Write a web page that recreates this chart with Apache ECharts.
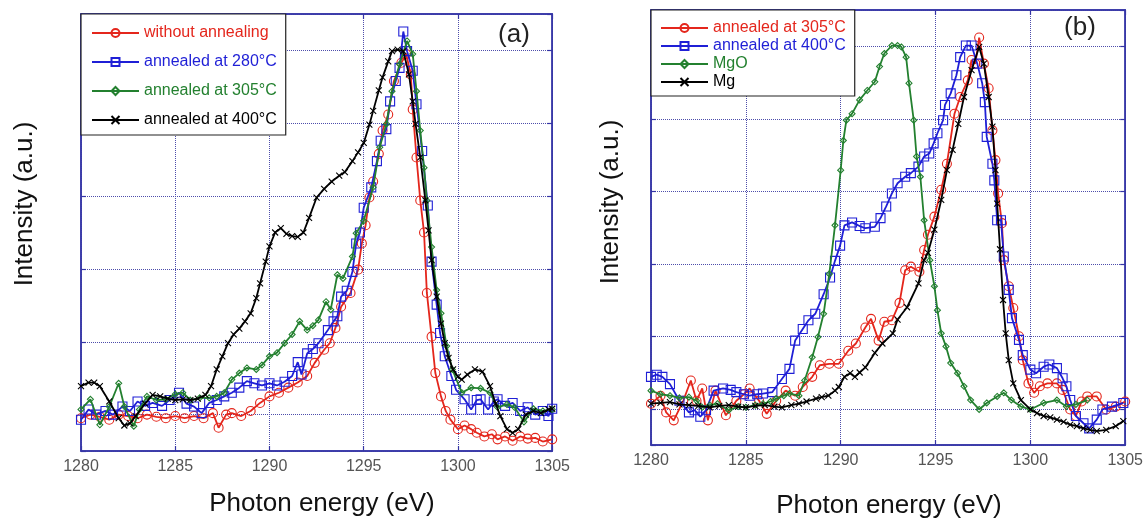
<!DOCTYPE html>
<html><head><meta charset="utf-8">
<script src="https://cdn.jsdelivr.net/npm/echarts@6/dist/echarts.min.js"></script>
<style>
html,body{margin:0;padding:0;background:#fff;}
#wrap{position:relative;width:1146px;height:519px;}
#ca{position:absolute;left:0;top:0;width:573px;height:519px;}
#cb{position:absolute;left:573px;top:0;width:573px;height:519px;}
</style>
</head><body><div id="wrap"><div id="ca"></div><div id="cb"></div></div>
<script>
// ---------- axis settings ----------
const energyMin = 1280, energyMax = 1305, energyStep = 5;
const intensityMin = -0.5, intensityMax = 5.5;

// ---------- panel (a) ----------
const namesA = ['without annealing', 'annealed at 280°C', 'annealed at 305°C', 'annealed at 400°C'];
const aNoAnneal = [[1280,-0.05],[1280.5,0],[1281,-0.03],[1281.5,-0.07],[1282,0],[1282.5,-0.02],[1283,-0.05],[1283.5,0],[1284,-0.03],[1284.5,-0.05],[1285,-0.02],[1285.5,-0.05],[1286,-0.02],[1286.5,-0.05],[1287,0.02],[1287.3,-0.18],[1287.7,0],[1288,0.02],[1288.5,-0.02],[1289,0.05],[1289.5,0.16],[1290,0.25],[1290.5,0.3],[1291,0.37],[1291.5,0.44],[1292,0.53],[1292.4,0.71],[1292.9,0.89],[1293.2,0.98],[1293.5,1.19],[1293.8,1.48],[1294.3,1.67],[1294.7,1.99],[1294.9,2.35],[1295.1,2.6],[1295.3,2.98],[1295.5,3.2],[1295.8,3.58],[1296,3.9],[1296.3,4.12],[1296.6,4.58],[1297,4.83],[1297.25,4.95],[1297.5,4.67],[1297.6,4.19],[1297.8,3.53],[1298,2.94],[1298.2,2.5],[1298.35,1.67],[1298.6,1.07],[1298.8,0.57],[1299.1,0.25],[1299.35,0.05],[1299.6,-0.07],[1300,-0.2],[1300.35,-0.15],[1300.7,-0.2],[1301,-0.25],[1301.4,-0.3],[1301.8,-0.27],[1302.1,-0.34],[1302.5,-0.3],[1302.9,-0.36],[1303.3,-0.3],[1303.7,-0.33],[1304.1,-0.32],[1304.5,-0.37],[1305,-0.34]];
const a280 = [[1280,-0.07],[1280.4,0.07],[1280.8,0],[1281.3,0.05],[1281.7,0],[1282.2,0.11],[1282.6,0.05],[1283,0.18],[1283.4,0.12],[1283.8,0.16],[1284.3,0.12],[1284.7,0.2],[1285.2,0.3],[1285.6,0.15],[1286,0.11],[1286.4,0.02],[1286.8,0.16],[1287.2,0.2],[1287.6,0.25],[1288,0.3],[1288.4,0.37],[1288.8,0.46],[1289.2,0.43],[1289.6,0.4],[1290,0.43],[1290.4,0.4],[1290.8,0.45],[1291.2,0.53],[1291.5,0.72],[1291.7,0.55],[1292,0.84],[1292.3,0.9],[1292.6,0.98],[1293.1,1.16],[1293.4,1.28],[1293.6,1.35],[1293.8,1.62],[1294.1,1.7],[1294.4,1.96],[1294.6,2.35],[1294.8,2.5],[1295,2.84],[1295.4,3.12],[1295.7,3.48],[1295.9,3.76],[1296.2,3.92],[1296.4,4.3],[1296.7,4.58],[1296.9,4.76],[1297.1,5.26],[1297.3,4.99],[1297.6,4.72],[1297.8,4.26],[1298.1,3.62],[1298.4,2.87],[1298.6,2.1],[1298.87,1.51],[1299.05,1.12],[1299.3,0.8],[1299.65,0.53],[1299.9,0.34],[1300.35,0.21],[1300.7,0.07],[1301,0.2],[1301.2,0.21],[1301.6,0.07],[1301.9,0.18],[1302.1,0.21],[1302.5,0.12],[1302.9,0.16],[1303.3,0.05],[1303.7,0.1],[1304.1,0],[1304.5,0.05],[1304.8,-0.02],[1305,0.08]];
const a305 = [[1280,0.07],[1280.5,0.21],[1281,-0.14],[1281.5,0.11],[1282,0.43],[1282.3,0.11],[1282.8,-0.16],[1283.1,0.07],[1283.5,0.25],[1284,0.2],[1284.5,0.21],[1285,0.28],[1285.4,0.3],[1285.8,0.2],[1286.3,0.23],[1286.8,0.23],[1287.2,0.25],[1287.6,0.3],[1288,0.48],[1288.4,0.57],[1288.8,0.64],[1289.3,0.62],[1289.6,0.68],[1290,0.8],[1290.4,0.85],[1290.8,0.98],[1291.2,1.1],[1291.6,1.28],[1292,1.16],[1292.3,1.22],[1292.6,1.3],[1293,1.55],[1293.25,1.44],[1293.6,1.92],[1293.9,1.87],[1294.4,2.17],[1294.6,2.49],[1295,2.66],[1295.5,3.12],[1295.85,3.67],[1296.2,3.99],[1296.5,4.44],[1296.9,4.81],[1297.3,5.13],[1297.6,4.95],[1297.8,4.44],[1298,3.9],[1298.2,3.39],[1298.35,2.94],[1298.6,2.3],[1298.87,1.71],[1299.1,1.39],[1299.4,0.94],[1299.7,0.62],[1300.2,0.3],[1300.7,0.37],[1301.2,0.36],[1301.7,0.3],[1302.1,0.1],[1302.6,0.14],[1303,0.1],[1303.5,-0.1],[1304,0.08],[1304.5,0.05],[1305,0.07]];
const a400 = [[1280,0.39],[1280.4,0.44],[1280.7,0.44],[1281,0.39],[1281.5,0.18],[1282,-0.05],[1282.3,-0.15],[1282.6,-0.12],[1282.9,-0.02],[1283.4,0.15],[1283.8,0.27],[1284.2,0.25],[1284.6,0.22],[1285,0.2],[1285.4,0.21],[1285.8,0.2],[1286.2,0.22],[1286.6,0.27],[1286.9,0.39],[1287.2,0.62],[1287.5,0.8],[1287.8,0.98],[1288.1,1.1],[1288.4,1.18],[1288.7,1.28],[1289,1.39],[1289.3,1.6],[1289.5,1.8],[1289.8,2.1],[1290,2.31],[1290.3,2.5],[1290.6,2.56],[1290.9,2.48],[1291.2,2.45],[1291.5,2.44],[1291.8,2.5],[1292.1,2.7],[1292.5,2.98],[1292.9,3.1],[1293.3,3.2],[1293.7,3.28],[1294,3.33],[1294.4,3.48],[1294.7,3.6],[1295,3.73],[1295.3,3.98],[1295.5,4.17],[1295.8,4.45],[1296,4.63],[1296.3,4.85],[1296.5,4.99],[1296.8,5.01],[1297.1,4.99],[1297.4,4.67],[1297.6,4.3],[1297.75,3.99],[1298,3.53],[1298.27,2.94],[1298.44,2.53],[1298.6,2.12],[1298.87,1.62],[1299.1,1.25],[1299.3,0.98],[1299.5,0.78],[1299.74,0.62],[1300,0.52],[1300.2,0.48],[1300.5,0.55],[1300.9,0.62],[1301.3,0.59],[1301.7,0.39],[1302,0.15],[1302.25,-0.02],[1302.6,-0.2],[1302.9,-0.25],[1303.2,-0.2],[1303.6,0],[1304,0.05],[1304.4,0.02],[1304.8,0.07],[1305,0.08]];

// ---------- panel (b) ----------
const namesB = ['annealed at 305°C', 'annealed at 400°C', 'MgO', 'Mg'];
const b305 = [[1280,0.07],[1280.5,0.18],[1280.8,-0.05],[1281.2,-0.16],[1281.7,0.11],[1282.1,0.39],[1282.4,0.11],[1282.7,0.28],[1283,-0.16],[1283.4,0.25],[1283.95,-0.09],[1284.5,0.11],[1284.9,0.2],[1285.2,0.28],[1285.7,0.11],[1286.1,-0.07],[1286.6,0.11],[1287.1,0.25],[1287.6,0.18],[1288,0.3],[1288.5,0.44],[1288.9,0.6],[1289.4,0.62],[1289.9,0.62],[1290.4,0.8],[1290.8,0.9],[1291.3,1.12],[1291.6,1.24],[1292,0.94],[1292.3,1.2],[1292.7,1.22],[1293.1,1.46],[1293.4,1.91],[1293.7,1.96],[1294.15,1.89],[1294.4,2.19],[1294.6,2.4],[1294.94,2.65],[1295.3,3.02],[1295.6,3.38],[1296,4.07],[1296.3,4.3],[1296.7,4.53],[1296.9,4.81],[1297.1,4.76],[1297.3,5.12],[1297.55,4.76],[1297.8,4.42],[1298,3.84],[1298.16,3.43],[1298.3,2.97],[1298.5,2.56],[1298.6,2.05],[1298.86,1.69],[1299.1,1.39],[1299.4,1],[1299.6,0.67],[1299.9,0.35],[1300.2,0.22],[1300.5,0.31],[1300.9,0.35],[1301.4,0.35],[1301.7,0.26],[1302.1,-0.01],[1302.4,-0.1],[1302.7,0.1],[1303,0.17],[1303.5,0.17],[1304,-0.01],[1304.5,0.03],[1305,0.1]];
const b400 = [[1280,0.44],[1280.3,0.47],[1280.6,0.44],[1281,0.34],[1281.5,0.11],[1282,-0.05],[1282.3,-0.02],[1282.6,-0.11],[1282.9,-0.02],[1283.3,0.25],[1283.8,0.28],[1284.2,0.26],[1284.5,0.23],[1284.9,0.2],[1285.2,0.18],[1285.6,0.2],[1285.9,0.21],[1286.4,0.23],[1286.9,0.41],[1287.3,0.55],[1287.6,0.94],[1288,1.1],[1288.3,1.22],[1288.66,1.31],[1289.1,1.58],[1289.44,1.81],[1289.7,2.04],[1289.97,2.25],[1290.2,2.53],[1290.6,2.57],[1291,2.52],[1291.3,2.49],[1291.8,2.51],[1292.1,2.63],[1292.4,2.79],[1292.7,2.97],[1293,3.11],[1293.4,3.2],[1293.7,3.25],[1294.1,3.34],[1294.4,3.48],[1294.67,3.52],[1294.9,3.66],[1295.1,3.8],[1295.4,3.98],[1295.5,4.19],[1295.8,4.35],[1296.1,4.6],[1296.3,4.85],[1296.6,5.01],[1296.9,5.01],[1297.2,4.76],[1297.46,4.49],[1297.6,4.23],[1297.7,3.75],[1298,3.38],[1298.1,3.15],[1298.25,2.6],[1298.45,2.6],[1298.6,2.1],[1298.86,1.64],[1299.03,1.25],[1299.4,0.95],[1299.6,0.74],[1300,0.54],[1300.3,0.49],[1300.7,0.58],[1301,0.61],[1301.4,0.56],[1301.7,0.42],[1301.9,0.31],[1302.1,0.12],[1302.4,-0.1],[1302.8,-0.2],[1303.1,-0.27],[1303.5,-0.15],[1303.8,-0.01],[1304.3,0.03],[1304.9,0.08]];
const bMgO = [[1280,0.25],[1280.5,0.2],[1281,0.18],[1281.5,0.15],[1282,0.16],[1282.4,0.11],[1282.7,0.02],[1283.1,0.05],[1283.5,0.07],[1284.1,-0.02],[1284.6,0.03],[1285,0.02],[1285.5,0.05],[1285.9,0.07],[1286.3,0.1],[1286.6,0.14],[1287,0.18],[1287.3,0.21],[1287.8,0.18],[1288.1,0.39],[1288.5,0.71],[1288.8,0.99],[1289.1,1.31],[1289.4,1.86],[1289.7,2.53],[1290,3.29],[1290.14,3.7],[1290.3,3.98],[1290.6,4.07],[1291,4.26],[1291.4,4.39],[1291.8,4.51],[1292.05,4.72],[1292.3,4.9],[1292.7,5.01],[1293,5.01],[1293.2,4.99],[1293.45,4.85],[1293.6,4.49],[1293.85,3.98],[1294,3.48],[1294.2,3.2],[1294.4,2.6],[1294.7,2.05],[1294.94,1.69],[1295.1,1.36],[1295.3,1.04],[1295.55,0.86],[1295.8,0.63],[1296.16,0.49],[1296.5,0.31],[1296.85,0.12],[1297.3,-0.01],[1297.7,0.08],[1298.25,0.17],[1298.6,0.22],[1299,0.12],[1299.5,0.03],[1300,-0.01],[1300.7,0.08],[1301.4,0.12],[1301.9,0.03],[1302.4,0.06],[1303,0.12]];
const bMg = [[1280,0.07],[1280.5,0.08],[1281,0.09],[1281.5,0.06],[1282,0.05],[1282.5,0.04],[1283.1,0.02],[1283.6,0.04],[1284.1,0.05],[1284.6,0.03],[1285,0.02],[1285.5,0.04],[1286,0.05],[1286.5,0.03],[1286.9,0.02],[1287.4,0.05],[1287.8,0.07],[1288.2,0.1],[1288.7,0.14],[1289,0.16],[1289.35,0.18],[1289.7,0.25],[1289.9,0.3],[1290.2,0.44],[1290.5,0.49],[1290.75,0.44],[1291,0.5],[1291.3,0.57],[1291.8,0.77],[1292.2,0.9],[1292.75,1.04],[1293,1.23],[1293.5,1.4],[1294.1,1.73],[1294.4,2.05],[1294.6,2.15],[1294.94,2.47],[1295.3,2.88],[1295.6,3.29],[1295.9,3.57],[1296.2,3.93],[1296.5,4.3],[1296.9,4.67],[1297.3,4.99],[1297.55,4.76],[1297.8,4.3],[1298,3.89],[1298.16,3.29],[1298.25,2.83],[1298.4,2.2],[1298.56,1.5],[1298.7,1.04],[1298.86,0.67],[1299.1,0.35],[1299.5,0.12],[1300,-0.01],[1300.35,-0.06],[1300.7,-0.1],[1301.05,-0.12],[1301.4,-0.15],[1301.75,-0.18],[1302.1,-0.22],[1302.45,-0.24],[1302.8,-0.27],[1303.15,-0.29],[1303.5,-0.31],[1304,-0.29],[1304.5,-0.24],[1304.9,-0.17]];

// ---------- styling ----------
const RED = '#e4261c', BLUE = '#1f1fd6', GREEN = '#23802f', BLACK = '#000000';
const FRAME = '#3535a6', GRIDC = '#4d4dab';
const FONT = 'Arial, "Liberation Sans", sans-serif';
const XMARK = 'path://M0,0L10,10M10,0L0,10';

function series(name, data, color, symbol, size, z) {
  return {
    name, type: 'line', data, symbol, symbolSize: size, showSymbol: true, showAllSymbol: true,
    z, animation: false, silent: true, xAxisIndex: 0, yAxisIndex: 0,
    lineStyle: { color, width: 1.8 },
    itemStyle: { color: 'rgba(255,255,255,0)', borderColor: color, borderWidth: 1.1 },
    emphasis: { disabled: true }
  };
}

function xAxisCfg(pos, labels) {
  return {
    type: 'value', position: pos, min: energyMin, max: energyMax, interval: energyStep,
    axisLine: { show: true, onZero: false, lineStyle: { color: FRAME, width: 1.5 } },
    axisTick: { show: true, inside: true, length: 5, lineStyle: { color: FRAME, width: 1.2 } },
    axisLabel: { show: labels, color: '#555', fontSize: 16, fontFamily: FONT, margin: 8,
                 showMaxLabel: true, showMinLabel: true, formatter: v => String(v) },
    splitLine: { show: labels, lineStyle: { color: GRIDC, type: 'dotted', width: 1 } }
  };
}
function yAxisCfg(pos, grid) {
  return {
    type: 'value', position: pos, min: intensityMin, max: intensityMax, splitNumber: 6,
    axisLine: { show: true, onZero: false, lineStyle: { color: FRAME, width: 1.5 } },
    axisTick: { show: true, inside: true, length: 5, lineStyle: { color: FRAME, width: 1.2 } },
    axisLabel: { show: false },
    splitLine: { show: grid, lineStyle: { color: GRIDC, type: 'dotted', width: 1 } }
  };
}

function panel(cfg) {
  return {
    animation: false,
    color: cfg.colors,
    grid: { left: cfg.left, top: cfg.top, width: cfg.width, height: cfg.height,
            show: true, borderColor: FRAME, borderWidth: 1.5, backgroundColor: 'transparent' },
    xAxis: [xAxisCfg('bottom', true), xAxisCfg('top', false)],
    yAxis: [yAxisCfg('left', true), yAxisCfg('right', false)],
    legend: {
      orient: 'vertical', left: cfg.legLeft, top: cfg.legTop,
      backgroundColor: '#fff', borderColor: '#222', borderWidth: 1.2,
      padding: cfg.legPad, itemGap: cfg.legGap, itemWidth: 47, itemHeight: 10,
      textStyle: { fontSize: 16, fontFamily: FONT, lineHeight: cfg.legLH },
      data: cfg.names.map((n, i) => ({ name: n, textStyle: { color: cfg.colors[i] } })),
      selectedMode: false
    },
    graphic: [
      { type: 'text', x: cfg.tagX, y: cfg.tagY, style: { text: cfg.tag, fontSize: 26, fontFamily: FONT, fill: '#222', textAlign: 'center', textVerticalAlign: 'middle' } },
      { type: 'text', x: cfg.yNameX, y: cfg.yNameY, rotation: Math.PI / 2, style: { text: 'Intensity (a.u.)', fontSize: 26, fontFamily: FONT, fill: '#111', textAlign: 'center', textVerticalAlign: 'middle' } },
      { type: 'text', x: cfg.xNameX, y: cfg.xNameY, style: { text: 'Photon energy (eV)', fontSize: 26, fontFamily: FONT, fill: '#111', textAlign: 'center', textVerticalAlign: 'middle' } }
    ],
    series: cfg.series
  };
}

const chartA = echarts.init(document.getElementById('ca'), null, { renderer: 'canvas' });
chartA.setOption(panel({
  left: 81, top: 14, width: 482, height: 437,
  colors: [RED, BLUE, GREEN, BLACK], names: namesA,
  legLeft: 81, legTop: 14, legPad: [10, 9, 6, 10], legGap: 11, legLH: 18,
  tag: '(a)', tagX: 514, tagY: 35,
  yNameX: 25, yNameY: 204, xNameX: 322, xNameY: 504,
  series: [
    series(namesA[0], aNoAnneal, RED, 'circle', 9, 3),
    series(namesA[1], a280, BLUE, 'rect', 9, 4),
    series(namesA[2], a305, GREEN, 'diamond', 6, 5),
    series(namesA[3], a400, BLACK, XMARK, 6, 6)
  ]
}));

const chartB = echarts.init(document.getElementById('cb'), null, { renderer: 'canvas' });
chartB.setOption(panel({
  left: 78, top: 10, width: 478, height: 435,
  colors: [RED, BLUE, GREEN, BLACK], names: namesB,
  legLeft: 78, legTop: 10, legPad: [10, 9, 6, 9], legGap: 2, legLH: 16,
  tag: '(b)', tagX: 507, tagY: 28,
  yNameX: 38, yNameY: 202, xNameX: 316, xNameY: 506,
  series: [
    series(namesB[0], b305, RED, 'circle', 9, 3),
    series(namesB[1], b400, BLUE, 'rect', 9, 4),
    series(namesB[2], bMgO, GREEN, 'diamond', 6, 5),
    series(namesB[3], bMg, BLACK, XMARK, 6, 6)
  ]
}));
</script>
</body></html>
